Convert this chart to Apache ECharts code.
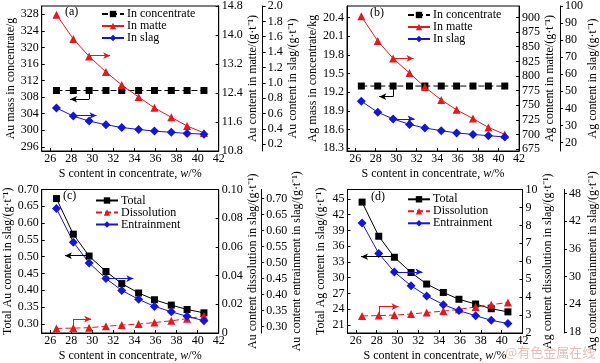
<!DOCTYPE html>
<html><head><meta charset="utf-8">
<script src="https://cdn.jsdelivr.net/npm/echarts@6/dist/echarts.min.js"></script>
<style>html,body{margin:0;padding:0;background:#fff}#c{width:600px;height:363px}</style>
</head><body><div id="c"></div><script>
// ---- data ----
const sContent = [26.6, 28.2, 29.7, 31.3, 32.8, 34.4, 35.9, 37.5, 39.0, 40.6];
// (a) Au
const auConcentrate = [309.6, 309.6, 309.6, 309.6, 309.6, 309.6, 309.6, 309.6, 309.6, 309.6];
const auMatte = [14.56, 13.89, 13.41, 12.98, 12.62, 12.29, 11.99, 11.73, 11.49, 11.30];
const auSlag = [0.673, 0.567, 0.502, 0.455, 0.419, 0.393, 0.372, 0.356, 0.342, 0.332];
// (b) Ag
const agConcentrate = [19.3, 19.3, 19.3, 19.3, 19.3, 19.3, 19.3, 19.3, 19.3, 19.3];
const agMatte = [902, 860, 830, 805, 781, 759, 742, 727, 712, 700];
const agSlag = [44.2, 37.7, 33.8, 30.6, 28.5, 26.9, 25.6, 24.7, 24.0, 23.2];
// (c) Au in slag
const auTotal = [0.673, 0.567, 0.502, 0.456, 0.420, 0.392, 0.372, 0.356, 0.343, 0.333];
const auDissolution = [0.0032, 0.0034, 0.0037, 0.0047, 0.0055, 0.0062, 0.0073, 0.0085, 0.0100, 0.0118];
const auEntrainment = [0.669, 0.564, 0.499, 0.450, 0.413, 0.385, 0.363, 0.346, 0.332, 0.318];
// (d) Ag in slag
const agTotal = [44.4, 37.9, 33.9, 31.0, 28.8, 27.2, 25.9, 25.0, 24.1, 23.5];
const agDissolution = [2.95, 2.97, 3.0, 3.06, 3.14, 3.22, 3.32, 3.45, 3.58, 3.70];
const agEntrainment = [41.6, 35.0, 31.0, 28.0, 25.8, 23.9, 22.6, 21.5, 20.5, 19.8];
// tick labels
const xTicks = [26, 28, 30, 32, 34, 36, 38, 40, 42];
const auMassTicks = [296, 300, 304, 308, 312, 316, 320, 324, 328];
const auMatteTicks = [10.8, 11.6, 12.4, 13.2, 14.0, 14.8];
const auSlagTicks = [0.2, 0.4, 0.6, 0.8, 1.0, 1.2, 1.4, 1.6, 1.8, 2.0];
const agMassTicks = [18.3, 18.6, 18.9, 19.2, 19.5, 19.8, 20.1, 20.4];
const agMatteTicks = [675, 700, 725, 750, 775, 800, 825, 850, 875, 900];
const agSlagTicks = [20, 30, 40, 50, 60, 70, 80, 90, 100];
const auTotalTicks = [0.30, 0.35, 0.40, 0.45, 0.50, 0.55, 0.60, 0.65, 0.70];
const auDissTicks = [0, 0.02, 0.04, 0.06, 0.08, 0.10];
const auEntrTicks = [0.30, 0.35, 0.40, 0.45, 0.50, 0.55, 0.60, 0.65, 0.70];
const agTotalTicks = [21, 24, 27, 30, 33, 36, 39, 42, 45];
const agDissTicks = [2, 3, 4, 5, 6, 7, 8, 9, 10];
const agEntrTicks = [18, 24, 30, 36, 42, 48];
// annotation arrows (data space): [start, end, arrowhead]
const arrowsA = {
  matte: [[[29.7, 13.43], [31.7, 13.43], true]],
  conc: [[[29.7, 309.6], [29.7, 307.5], false], [[29.7, 307.5], [27.9, 307.5], true]],
  slag: [[[28.2, 0.575], [30.4, 0.575], true]]
};
const arrowsB = {
  matte: [[[29.7, 830], [31.7, 830], true]],
  conc: [[[29.7, 19.3], [29.7, 19.13], false], [[29.7, 19.13], [28.35, 19.13], true]],
  slag: [[[29.7, 33.9], [31.8, 33.9], true]]
};
const arrowsC = {
  total: [[[29.7, 0.503], [27.4, 0.503], true]],
  entr: [[[31.3, 0.45], [33.9, 0.45], true]],
  diss: [[[28.2, 0.0034], [28.2, 0.0097], false], [[28.2, 0.0097], [29.9, 0.0097], true]]
};
const arrowsD = {
  total: [[[29.7, 34.0], [26.5, 34.0], true]],
  entr: [[[29.7, 31.0], [32.4, 31.0], true]],
  diss: [[[28.2, 2.97], [28.2, 3.47], false], [[28.2, 3.47], [30.1, 3.47], true]]
};

// ---- styles ----
const FONT = '"Liberation Serif","Times New Roman",serif';
const FS = 12;
const RED = '#e3191f', BLUE = '#1515d6', BLACK = '#000';
const grids = [
  {left: 41.7, width: 177, top: 4, height: 147},
  {left: 347, width: 177.5, top: 4, height: 147},
  {left: 41.7, width: 177, top: 189.5, height: 144},
  {left: 347.5, width: 177, top: 189.5, height: 144}
].map(g => Object.assign({show: true, borderColor: '#000', borderWidth: 1, backgroundColor: 'transparent'}, g));

function xAx(gi) {
  return {
    type: 'value', gridIndex: gi, min: 25.2, max: 42,
    axisLine: {show: true, onZero: false, lineStyle: {color: '#000', width: 1}},
    axisTick: {show: true, inside: true, length: 3, customValues: xTicks, lineStyle: {color: '#000'}},
    axisLabel: {customValues: xTicks, color: '#000', fontFamily: FONT, fontSize: FS, margin: 2},
    splitLine: {show: false},
    name: 'S content in concentrate, {i|w}/%', nameLocation: 'middle', nameGap: 17,
    nameTextStyle: {color: '#000', fontFamily: FONT, fontSize: FS,
      rich: {i: {fontStyle: 'italic', fontFamily: FONT, fontSize: FS, color: '#000'}}}
  };
}
function yAx(gi, pos, offset, min, max, ticks, fmt, name, nameGap, outerTicks) {
  return {
    type: 'value', gridIndex: gi, position: pos, offset: offset, min: min, max: max,
    axisLine: {show: true, onZero: false, lineStyle: {color: '#000', width: 1}},
    axisTick: {show: true, inside: !outerTicks, length: 3, customValues: ticks, lineStyle: {color: '#000'}},
    axisLabel: {customValues: ticks, color: '#000', fontFamily: FONT, fontSize: FS,
      margin: outerTicks ? 5 : 3, formatter: fmt},
    splitLine: {show: false},
    name: name, nameLocation: 'middle', nameGap: nameGap,
    nameTextStyle: {color: '#000', fontFamily: FONT, fontSize: FS}
  };
}
const f0 = v => String(Math.round(v));
const f1 = v => v.toFixed(1);
const f2 = v => v.toFixed(2);
const f2z = v => v === 0 ? '0' : v.toFixed(2);

const yAxes = [
  // (a)
  yAx(0, 'left', 0, 295, 330, auMassTicks, f0, 'Au mass in concentrate/g', 24, false),
  yAx(0, 'right', 0, 10.8, 14.8, auMatteTicks, f1, 'Au content in matte/(g·t⁻¹)', 24, false),
  yAx(0, 'right', 44, 0.113, 2.0, auSlagTicks, f1, 'Au content in slag/(g·t⁻¹)', 24, true),
  // (b)
  yAx(1, 'left', 0, 18.257, 20.585, agMassTicks, f1, 'Ag mass in concentrate/kg', 26, false),
  yAx(1, 'right', 0, 671.6, 919.7, agMatteTicks, f0, 'Ag content in matte/(g·t⁻¹)', 23, false),
  yAx(1, 'right', 41, 15, 100, agSlagTicks, f0, 'Ag content in slag/(g·t⁻¹)', 22, true),
  // (c)
  yAx(2, 'left', 0, 0.273, 0.70, auTotalTicks, f2, 'Total Au content in slag/(g·t⁻¹)', 28, false),
  yAx(2, 'right', 0, 0, 0.10, auDissTicks, f2z, 'Au content dissolution in slag/(g·t⁻¹)', 25, false),
  yAx(2, 'right', 42.5, 0.2797, 0.7287, auEntrTicks, f2, 'Au content entrainment in slag/(g·t⁻¹)', 28, true),
  // (d)
  yAx(3, 'left', 0, 19.48, 46.8, agTotalTicks, f0, 'Total Ag content in slag/(g·t⁻¹)', 21, false),
  yAx(3, 'right', 0, 2, 10, agDissTicks, f0, 'Ag content dissolution in slag/(g·t⁻¹)', 19, false),
  yAx(3, 'right', 41.5, 17.74, 48.9, agEntrTicks, f0, 'Ag content entrainment in slag/(g·t⁻¹)', 23, true)
];

function ml(color, segs) {
  return {
    silent: true, animation: false, label: {show: false}, emphasis: {disabled: true},
    lineStyle: {color: color, width: 1, type: 'solid'}, symbol: ['none', 'none'],
    data: segs.map(s => [
      {coord: s[0], symbol: 'none'},
      {coord: s[1], symbol: s[2] ? 'arrow' : 'none', symbolSize: s[2] ? [5, 7] : 0}
    ])
  };
}
function ser(name, xi, yi, vals, color, symbol, size, dashed, arrows, lineColor) {
  return {
    type: 'line', name: name, xAxisIndex: xi, yAxisIndex: yi,
    data: sContent.map((x, i) => [x, vals[i]]),
    symbol: symbol, symbolSize: size, showSymbol: true, animation: false,
    itemStyle: {color: color},
    lineStyle: {color: lineColor || color, width: 1, type: dashed ? [6, 3] : 'solid'},
    emphasis: {disabled: true},
    markLine: ml(color, arrows), z: 3
  };
}

const series = [
  ser('In concentrate', 0, 0, auConcentrate, BLACK, 'rect', 7, true, arrowsA.conc),
  ser('In matte', 0, 1, auMatte, RED, 'triangle', 8, false, arrowsA.matte),
  ser('In slag', 0, 2, auSlag, BLUE, 'diamond', 9, false, arrowsA.slag),
  ser('In concentrate', 1, 3, agConcentrate, BLACK, 'rect', 7, true, arrowsB.conc),
  ser('In matte', 1, 4, agMatte, RED, 'triangle', 8, false, arrowsB.matte),
  ser('In slag', 1, 5, agSlag, BLUE, 'diamond', 9, false, arrowsB.slag),
  ser('Total', 2, 6, auTotal, BLACK, 'rect', 7, false, arrowsC.total),
  ser('Dissolution', 2, 7, auDissolution, RED, 'triangle', 8, true, arrowsC.diss),
  ser('Entrainment', 2, 8, auEntrainment, BLUE, 'diamond', 9, false, arrowsC.entr),
  ser('Total', 3, 9, agTotal, BLACK, 'rect', 7, false, arrowsD.total),
  ser('Dissolution', 3, 10, agDissolution, RED, 'triangle', 8, true, arrowsD.diss),
  ser('Entrainment', 3, 11, agEntrainment, BLUE, 'diamond', 9, false, arrowsD.entr)
];

function leg(names, left, top) {
  return {
    data: names, left: left, top: top, orient: 'vertical', itemGap: 0, padding: 0,
    itemWidth: 22, itemHeight: 8, selectedMode: false,
    textStyle: {color: '#000', fontFamily: FONT, fontSize: FS, padding: [0, 0, 0, -2]}
  };
}

const option = {
  animation: false,
  backgroundColor: '#fff',
  grid: grids,
  xAxis: [xAx(0), xAx(1), xAx(2), xAx(3)],
  yAxis: yAxes,
  legend: [
    leg(['In concentrate', 'In matte', 'In slag'], 101, 8),
    leg(['In concentrate', 'In matte', 'In slag'], 407, 9),
    leg(['Total', 'Dissolution', 'Entrainment'], 95, 194.5),
    leg(['Total', 'Dissolution', 'Entrainment'], 407, 193.3)
  ],
  graphic: [
    {type: 'text', left: 65, top: 6, style: {text: '(a)', font: '12px ' + FONT, fill: '#000'}},
    {type: 'text', left: 370, top: 7, style: {text: '(b)', font: '12px ' + FONT, fill: '#000'}},
    {type: 'text', left: 63, top: 190, style: {text: '(c)', font: '12px ' + FONT, fill: '#000'}},
    {type: 'text', left: 371, top: 191, style: {text: '(d)', font: '12px ' + FONT, fill: '#000'}},
    {type: 'text', left: 505, top: 346, style: {text: '@有色金属在线', font: '13px "Noto Sans CJK SC"', fill: '#ebbcbc'}}
  ],
  series: series
};
const chart = echarts.init(document.getElementById('c'), null, {renderer: 'canvas'});
chart.setOption(option);
</script></body></html>
